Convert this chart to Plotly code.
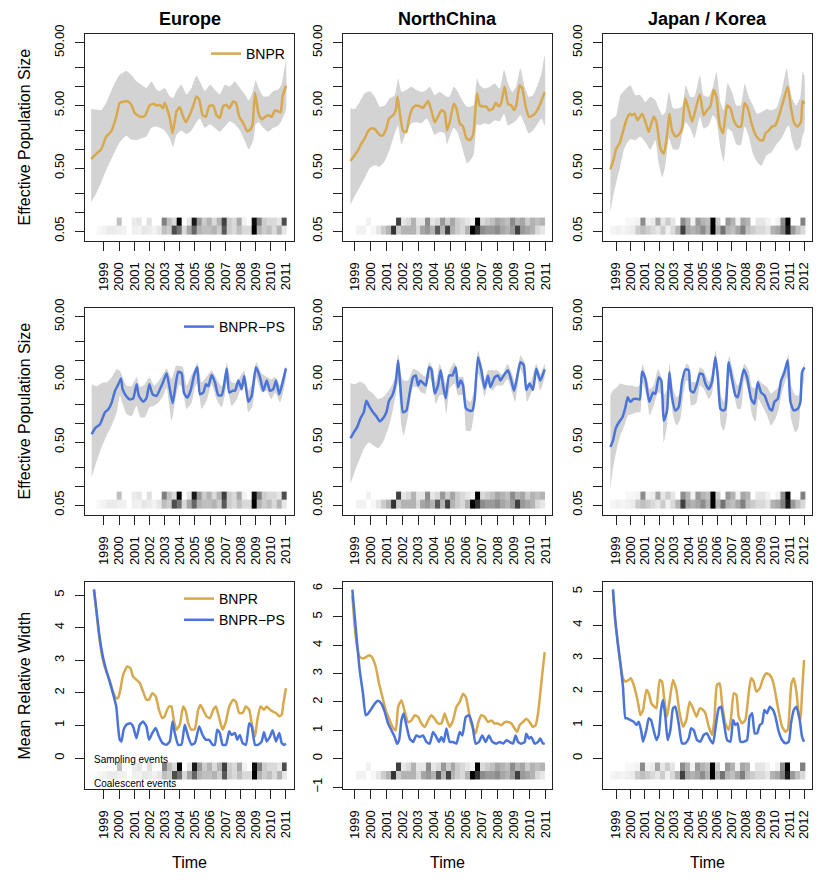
import numpy as np
import plotly.graph_objects as go
from plotly.subplots import make_subplots

# ---------------- data ----------------
# Europe, BNPR
eu_bnpr_t = [1998.16, 1998.49, 1998.82, 1999.15, 1999.48, 1999.81, 2000.04, 2000.37, 2000.59, 2000.81,
             2001.03, 2001.36, 2001.69, 2002.02, 2002.28, 2002.46, 2002.68, 2002.9, 2003.0, 2003.34,
             2003.52, 2003.67, 2003.78, 2004.0, 2004.18, 2004.4, 2004.66, 2004.88, 2005.1, 2005.28,
             2005.5, 2005.72, 2005.94, 2006.2, 2006.42, 2006.64, 2006.86, 2007.08, 2007.26, 2007.52,
             2007.7, 2007.92, 2008.19, 2008.45, 2008.67, 2008.8, 2008.96, 2009.18, 2009.4, 2009.62,
             2009.84, 2010.06, 2010.28, 2010.5, 2010.65, 2010.78, 2011.0]
eu_bnpr = [0.70, 0.85, 1.0, 1.6, 1.93, 3.3, 5.5, 5.8, 5.8, 5.1,
           3.8, 3.3, 3.4, 5.0, 5.3, 5.0, 5.1, 4.5, 5.5, 3.15,
           1.82, 2.8, 4.0, 4.7, 3.55, 2.7, 3.55, 4.9, 6.95, 6.2,
           3.55, 3.3, 4.9, 5.0, 3.5, 3.15, 4.9, 5.1, 4.5, 5.8,
           5.5, 3.3, 2.6, 1.93, 2.1, 2.5, 7.9, 3.8, 3.0, 3.3,
           3.5, 3.3, 4.2, 4.0, 3.9, 7.0, 10.3]
eu_bnpr_band_t = [1998.16, 1998.49, 1998.82, 1999.15, 1999.6, 2000.04, 2000.48, 2000.8, 2001.14, 2001.47,
                  2001.8, 2002.13, 2002.46, 2002.68, 2003.0, 2003.34, 2003.56, 2003.78, 2004.1, 2004.44,
                  2004.77, 2005.1, 2005.32, 2005.65, 2006.0, 2006.3, 2006.64, 2006.97, 2007.3, 2007.63,
                  2007.96, 2008.3, 2008.55, 2008.85, 2009.0, 2009.2, 2009.5, 2009.84, 2010.17, 2010.5,
                  2010.72, 2011.0]
eu_bnpr_hi = [4.4, 4.3, 4.2, 5.5, 10, 15.4, 17.7, 15.4, 12.1, 10.7,
              9.5, 12, 9, 8.5, 9.5, 7, 6.6, 8.5, 10.7, 7.5,
              9.5, 15, 12, 8.5, 10.7, 9, 7.5, 10.7, 10, 12,
              9.5, 7.5, 6.0, 9, 12.5, 9.5, 7, 7, 8.5, 9,
              11, 25]
eu_bnpr_lo = [0.143, 0.2, 0.3, 0.47, 0.8, 1.3, 1.65, 1.43, 1.4, 1.5,
              1.6, 2.2, 2.3, 2.2, 2.0, 1.5, 1.1, 1.7, 2.0, 1.75,
              2.0, 2.7, 3.1, 2.2, 2.5, 2.2, 1.9, 2.3, 2.8, 2.5,
              2.0, 1.35, 1.0, 1.4, 2.5, 2.7, 2.2, 1.9, 2.2, 2.4,
              2.9, 4.3]

# Europe, BNPR-PS
eu_ps_t = [1998.19, 1998.41, 1998.74, 1999.07, 1999.29, 1999.51, 1999.73, 1999.95, 2000.12, 2000.23,
           2000.45, 2000.71, 2000.93, 2001.15, 2001.3, 2001.59, 2001.81, 2001.99, 2002.21, 2002.47,
           2002.69, 2002.91, 2003.13, 2003.31, 2003.53, 2003.75, 2003.9, 2004.12, 2004.27, 2004.49,
           2004.71, 2004.93, 2005.15, 2005.33, 2005.55, 2005.73, 2005.88, 2006.1, 2006.32, 2006.54,
           2006.76, 2006.91, 2007.09, 2007.26, 2007.48, 2007.64, 2007.86, 2008.08, 2008.25, 2008.52,
           2008.74, 2009.02, 2009.29, 2009.51, 2009.73, 2009.95, 2010.16, 2010.34, 2010.56, 2010.78,
           2011.0]
eu_ps = [0.67, 0.83, 0.97, 1.5, 1.67, 2.15, 3.3, 4.2, 5.2, 3.5,
         2.75, 2.4, 2.5, 4.2, 2.75, 2.2, 2.55, 4.2, 2.9, 2.75,
         3.5, 4.6, 6.3, 3.9, 2.1, 4.5, 6.6, 6.3, 3.1, 2.55,
         3.3, 5.7, 7.8, 2.9, 3.1, 4.2, 3.9, 5.9, 4.5, 2.8,
         2.8, 3.9, 7.5, 3.1, 3.3, 3.3, 4.8, 3.5, 5.7, 2.2,
         2.75, 7.8, 5.4, 3.3, 4.8, 3.3, 3.5, 4.8, 2.9, 4.5,
         7.5]
eu_ps_band_t = [1998.19, 1998.52, 1998.85, 1999.18, 1999.51, 1999.84, 2000.05, 2000.27, 2000.5, 2000.82,
                2001.15, 2001.4, 2001.7, 2002.0, 2002.3, 2002.6, 2002.91, 2003.13, 2003.46, 2003.75,
                2003.97, 2004.19, 2004.45, 2004.78, 2005.0, 2005.17, 2005.44, 2005.77, 2006.1, 2006.43,
                2006.76, 2006.98, 2007.09, 2007.42, 2007.75, 2007.97, 2008.24, 2008.52, 2008.8, 2009.04,
                2009.4, 2009.73, 2010.03, 2010.3, 2010.6, 2010.8, 2011.0]
eu_ps_hi = [4.2, 3.9, 4.4, 4.5, 5.4, 7.3, 6.8, 5.2, 4.0, 3.9,
            5.4, 3.8, 4.2, 5.4, 4.0, 4.7, 6.1, 7.5, 5.1, 8.2,
            8.2, 8.0, 4.0, 6.0, 7.5, 9.3, 4.5, 5.5, 7.0, 5.1,
            3.9, 6.0, 9.3, 4.5, 4.4, 5.5, 6.9, 3.3, 4.5, 9.5,
            6.2, 5.5, 5.0, 5.5, 4.0, 5.6, 8.2]
eu_ps_lo = [0.14, 0.25, 0.42, 0.64, 0.92, 1.5, 2.75, 1.9, 1.4, 1.3,
            1.9, 1.25, 1.25, 1.8, 1.9, 2.15, 2.75, 3.7, 1.1, 2.75,
            4.2, 3.5, 1.7, 2.15, 3.7, 4.5, 1.7, 2.3, 4.2, 2.4,
            1.8, 2.9, 4.5, 1.9, 2.4, 3.3, 4.2, 1.5, 1.9, 5.4,
            3.1, 3.3, 2.4, 3.1, 2.15, 3.0, 5.4]

# Europe, mean relative width
eu_mrw_bnpr_t = [1998.34, 1998.49, 1998.71, 1998.93, 1999.15, 1999.37, 1999.59, 1999.81, 1999.93, 2000.08,
                 2000.26, 2000.54, 2000.74, 2000.92, 2001.14, 2001.36, 2001.58, 2001.8, 2001.97, 2002.19,
                 2002.41, 2002.63, 2002.85, 2003.0, 2003.12, 2003.3, 2003.45, 2003.6, 2003.78, 2004.0,
                 2004.22, 2004.4, 2004.55, 2004.77, 2004.99, 2005.21, 2005.37, 2005.59, 2005.76, 2005.98,
                 2006.2, 2006.38, 2006.6, 2006.82, 2007.04, 2007.26, 2007.52, 2007.7, 2007.92, 2008.14,
                 2008.36, 2008.58, 2008.74, 2008.96, 2009.11, 2009.33, 2009.55, 2009.73, 2009.95, 2010.12,
                 2010.34, 2010.56, 2010.72, 2010.83, 2011.0]
eu_mrw_bnpr = [5.17, 4.54, 3.62, 3.01, 2.65, 2.4, 2.04, 1.84, 1.84, 2.09,
               2.55, 2.81, 2.76, 2.5, 2.4, 2.3, 2.04, 1.79, 1.79, 1.99,
               1.89, 1.48, 1.22, 1.28, 1.43, 1.58, 1.58, 1.17, 0.87, 1.02,
               1.58, 1.43, 1.07, 0.87, 0.89, 1.48, 1.63, 1.43, 1.28, 1.22,
               1.48, 1.58, 1.22, 0.87, 1.12, 1.58, 1.79, 1.73, 1.38, 1.38,
               1.58, 1.48, 1.07, 0.66, 1.17, 1.58, 1.48, 1.58, 1.48, 1.43,
               1.38, 1.28, 1.33, 1.68, 2.14]
eu_mrw_ps_t = [1998.34, 1998.49, 1998.71, 1998.93, 1999.15, 1999.37, 1999.59, 1999.81, 1999.93, 2000.04,
               2000.15, 2000.3, 2000.48, 2000.74, 2000.92, 2001.14, 2001.36, 2001.58, 2001.8, 2001.97,
               2002.19, 2002.41, 2002.63, 2002.85, 2003.12, 2003.34, 2003.52, 2003.67, 2003.89, 2004.11,
               2004.33, 2004.55, 2004.77, 2004.99, 2005.28, 2005.5, 2005.72, 2005.94, 2006.16, 2006.31,
               2006.47, 2006.64, 2006.82, 2007.04, 2007.26, 2007.41, 2007.63, 2007.79, 2007.96, 2008.14,
               2008.36, 2008.58, 2008.74, 2008.96, 2009.18, 2009.4, 2009.55, 2009.73, 2009.95, 2010.12,
               2010.34, 2010.56, 2010.72, 2010.87, 2011.0]
eu_mrw_ps = [5.17, 4.59, 3.72, 3.11, 2.7, 2.35, 1.99, 1.58, 0.97, 0.56,
             0.51, 0.87, 1.02, 1.07, 0.97, 0.61, 1.02, 1.12, 0.97, 0.56,
             0.77, 0.92, 0.66, 0.46, 0.41, 0.51, 1.12, 0.77, 0.41, 0.41,
             1.02, 0.66, 0.41, 0.46, 0.97, 0.71, 0.56, 0.56, 0.41, 0.41,
             0.87, 0.77, 0.41, 0.41, 0.82, 0.71, 0.77, 0.56, 0.71, 0.46,
             0.41, 1.07, 0.97, 0.41, 0.41, 0.51, 0.79, 0.51, 0.66, 0.85,
             0.51, 0.77, 0.46, 0.41, 0.43]

# Europe, event density strips (0 = none, 1 = most)
eu_sampling = [0, 0, 0, 0, 0.25, 0, 0, 0.08, 0.1, 0, 0.12, 0, 0, 0.5, 0.25, 0.15, 1.0, 0, 0.1,
               0.9, 0.4, 0.2, 0.3, 0.15, 0.3, 0.75, 0.2, 0.15, 0.35, 0.05, 0, 0.95, 0.5, 0.2, 0.15,
               0.15, 0.1, 0.7]
eu_coalescent = [0.03, 0.05, 0.08, 0.08, 0.06, 0.05, 0, 0.06, 0.05, 0.1, 0.08, 0.05, 0.1, 0.25, 0.2,
                 0.7, 0.55, 0.15, 0.35, 0.6, 0.3, 0.25, 0.25, 0.3, 0.2, 0.65, 0.2, 0.15, 0.25, 0.15,
                 0.15, 1.0, 0.3, 0.2, 0.25, 0.15, 0.3, 0.1]

# NorthChina, BNPR
nc_bnpr_t = [1998.73, 1999.0, 1999.21, 1999.42, 1999.63, 1999.84, 2000.05, 2000.26, 2000.57, 2000.74,
             2000.99, 2001.16, 2001.41, 2001.58, 2001.69, 2001.83, 2002.04, 2002.25, 2002.42, 2002.63,
             2002.84, 2003.05, 2003.3, 2003.62, 2003.82, 2004.03, 2004.24, 2004.45, 2004.66, 2004.81,
             2004.98, 2005.23, 2005.4, 2005.61, 2005.82, 2006.03, 2006.24, 2006.45, 2006.7, 2006.87,
             2007.08, 2007.29, 2007.45, 2007.71, 2007.87, 2008.08, 2008.23, 2008.44, 2008.65, 2008.86,
             2009.03, 2009.17, 2009.38, 2009.55, 2009.76, 2009.97, 2010.22, 2010.43, 2010.68, 2010.96]
nc_bnpr = [0.65, 0.81, 0.97, 1.24, 1.49, 1.95, 2.15, 2.1, 1.69, 1.65,
           2.15, 3.1, 3.5, 4.2, 6.9, 3.95, 1.95, 1.9, 3.1, 4.5,
           5.0, 4.9, 4.6, 5.9, 4.2, 2.7, 3.3, 4.2, 3.9, 2.0,
           2.7, 5.3, 4.5, 2.6, 2.3, 1.5, 1.4, 1.7, 7.8, 5.0,
           4.8, 4.8, 4.2, 4.5, 5.5, 4.8, 5.6, 9.9, 5.3, 5.0,
           4.2, 5.0, 10.5, 9.3, 4.8, 3.3, 3.5, 3.95, 5.3, 8.1]
nc_bnpr_band_t = [1998.73, 1999.0, 1999.31, 1999.63, 1999.94, 2000.26, 2000.57, 2000.89, 2001.2, 2001.52,
                  2001.73, 2001.94, 2002.25, 2002.57, 2002.88, 2003.2, 2003.51, 2003.72, 2004.03, 2004.35,
                  2004.66, 2004.81, 2004.98, 2005.23, 2005.5, 2005.82, 2006.07, 2006.34, 2006.5, 2006.7,
                  2006.87, 2007.18, 2007.5, 2007.81, 2008.13, 2008.4, 2008.65, 2008.92, 2009.17, 2009.43,
                  2009.7, 2009.95, 2010.22, 2010.54, 2010.75, 2010.96]
nc_bnpr_hi = [4.5, 4.4, 5.7, 7.8, 8.4, 6.9, 4.8, 5.0, 6.5, 7.3,
              13.4, 8.2, 8.8, 9.9, 8.8, 8.2, 8.8, 9.9, 7.3, 8.2,
              7.3, 6.9, 6.9, 9.9, 8.2, 5.7, 4.8, 4.8, 5.2, 13.4,
              10.5, 9.3, 9.9, 11.2, 9.3, 18.3, 11.2, 8.2, 10, 19.5,
              9.9, 6.9, 7.3, 11, 16, 31.6]
nc_bnpr_lo = [0.13, 0.18, 0.25, 0.35, 0.5, 0.56, 0.53, 0.65, 1.0, 1.8,
              2.4, 1.2, 1.9, 2.6, 2.7, 2.6, 3.1, 2.6, 1.7, 1.9,
              1.8, 1.2, 1.6, 2.2, 1.8, 0.95, 0.6, 0.7, 0.85, 2.5,
              2.4, 2.6, 2.5, 2.9, 2.8, 3.7, 2.4, 2.6, 2.9, 3.5,
              2.5, 1.8, 2.0, 2.6, 3.1, 2.4]

# NorthChina, BNPR-PS
nc_ps_t = [1998.73, 1998.94, 1999.15, 1999.36, 1999.57, 1999.73, 1999.9, 2000.15, 2000.36, 2000.57,
           2000.78, 2000.99, 2001.16, 2001.37, 2001.58, 2001.73, 2001.87, 2002.04, 2002.25, 2002.46,
           2002.67, 2002.84, 2002.99, 2003.13, 2003.47, 2003.68, 2003.82, 2004.03, 2004.24, 2004.41,
           2004.56, 2004.73, 2004.94, 2005.15, 2005.36, 2005.5, 2005.67, 2005.82, 2005.99, 2006.2,
           2006.41, 2006.55, 2006.76, 2006.97, 2007.18, 2007.39, 2007.54, 2007.81, 2008.02, 2008.17,
           2008.38, 2008.65, 2008.86, 2009.03, 2009.22, 2009.43, 2009.64, 2009.8, 2010.01, 2010.22,
           2010.43, 2010.68, 2010.96]
nc_ps = [0.58, 0.72, 0.87, 1.2, 1.5, 2.3, 1.9, 1.5, 1.3, 1.08,
         1.2, 1.5, 2.3, 2.8, 4.5, 10, 4.0, 1.5, 1.6, 3.1,
         5.4, 5.8, 4.0, 4.8, 4.0, 7.8, 7.3, 3.0, 4.0, 7.0,
         4.0, 2.5, 5.8, 5.8, 7.8, 3.75, 4.8, 4.0, 1.75, 1.6,
         1.6, 2.45, 11.3, 7.0, 3.6, 5.8, 3.75, 5.4, 5.8, 4.8,
         5.8, 7.0, 4.8, 3.3, 5.4, 9.4, 8.5, 3.4, 4.3, 3.4,
         7.4, 4.8, 7.2]
nc_ps_band_t = [1998.73, 1999.0, 1999.31, 1999.63, 1999.9, 2000.15, 2000.47, 2000.78, 2001.1, 2001.37,
                2001.58, 2001.73, 2001.94, 2002.08, 2002.36, 2002.67, 2002.92, 2003.2, 2003.45, 2003.68,
                2003.93, 2004.1, 2004.35, 2004.56, 2004.77, 2004.98, 2005.29, 2005.5, 2005.82, 2006.03,
                2006.3, 2006.5, 2006.76, 2006.97, 2007.18, 2007.39, 2007.65, 2007.95, 2008.3, 2008.62,
                2008.92, 2009.1, 2009.43, 2009.7, 2009.85, 2010.12, 2010.43, 2010.68, 2010.96]
nc_ps_hi = [4.4, 4.2, 4.6, 4.2, 3.3, 3.0, 2.45, 2.6, 3.2, 4.2,
            5.8, 12.9, 5.5, 4.8, 4.8, 7.3, 7.0, 6.1, 5.5, 9.4,
            7.5, 4.5, 8.9, 6.0, 4.0, 7.0, 9.4, 5.5, 5.5, 2.45,
            2.2, 3.3, 14.5, 9.4, 5.0, 7.0, 7.0, 7.0, 6.0, 8.9,
            6.0, 4.2, 12, 9.4, 4.2, 4.8, 8.9, 6.0, 8.9]
nc_ps_lo = [0.11, 0.17, 0.27, 0.42, 0.5, 0.45, 0.4, 0.5, 0.81, 1.5,
            2.8, 4.5, 0.92, 0.64, 1.35, 3.8, 3.8, 3.1, 2.95, 5.4,
            4.0, 2.05, 2.8, 2.8, 1.4, 3.6, 4.3, 2.8, 2.8, 0.76,
            0.76, 1.4, 6.3, 4.5, 2.6, 4.3, 3.3, 4.0, 4.0, 5.1,
            3.0, 2.2, 7.3, 5.0, 2.2, 3.1, 5.8, 3.35, 5.4]

# NorthChina, mean relative width
nc_mrw_bnpr_t = [1998.85, 1999.0, 1999.15, 1999.31, 1999.52, 1999.73, 1999.94, 2000.11, 2000.32, 2000.53,
                 2000.74, 2000.95, 2001.16, 2001.37, 2001.58, 2001.73, 2001.94, 2002.15, 2002.36, 2002.57,
                 2002.78, 2002.99, 2003.2, 2003.41, 2003.62, 2003.82, 2004.03, 2004.24, 2004.45, 2004.66,
                 2004.81, 2004.98, 2005.19, 2005.4, 2005.61, 2005.82, 2005.99, 2006.13, 2006.28, 2006.45,
                 2006.61, 2006.76, 2006.97, 2007.18, 2007.39, 2007.6, 2007.81, 2008.02, 2008.23, 2008.44,
                 2008.65, 2008.86, 2009.07, 2009.22, 2009.38, 2009.59, 2009.8, 2010.01, 2010.22, 2010.39,
                 2010.54, 2010.68, 2010.81, 2010.96]
nc_mrw_bnpr = [5.76, 4.65, 3.94, 3.59, 3.53, 3.59, 3.65, 3.56, 3.24, 2.65,
               2.18, 1.71, 1.41, 1.12, 1.0, 1.82, 2.06, 1.65, 1.29, 1.35,
               1.53, 1.47, 1.24, 1.12, 1.35, 1.53, 1.41, 1.24, 1.24, 1.59,
               1.35, 1.12, 1.35, 1.82, 2.0, 2.29, 2.18, 1.82, 1.35, 1.06,
               0.88, 1.24, 1.53, 1.47, 1.29, 1.35, 1.24, 1.24, 1.18, 1.29,
               1.29, 1.24, 1.06, 0.94, 1.18, 1.29, 1.41, 1.29, 1.12, 1.18,
               1.59, 2.29, 3.0, 3.76]
nc_mrw_ps_t = [1998.85, 1999.0, 1999.15, 1999.31, 1999.52, 1999.69, 1999.84, 2000.05, 2000.26, 2000.47,
               2000.68, 2000.89, 2001.1, 2001.31, 2001.52, 2001.66, 2001.79, 2001.94, 2002.08, 2002.25,
               2002.46, 2002.67, 2002.88, 2003.09, 2003.3, 2003.51, 2003.72, 2003.93, 2004.14, 2004.31,
               2004.45, 2004.6, 2004.77, 2004.98, 2005.19, 2005.4, 2005.61, 2005.78, 2005.99, 2006.2,
               2006.41, 2006.61, 2006.82, 2007.03, 2007.24, 2007.45, 2007.66, 2007.92, 2008.13, 2008.34,
               2008.55, 2008.75, 2008.96, 2009.13, 2009.28, 2009.49, 2009.7, 2009.8, 2009.97, 2010.12,
               2010.33, 2010.54, 2010.68, 2010.85, 2010.96]
nc_mrw_ps = [5.96, 5.0, 4.06, 3.12, 2.29, 1.53, 1.59, 1.76, 1.94, 2.04,
             1.94, 1.65, 1.24, 1.0, 0.76, 0.53, 0.65, 1.35, 1.59, 1.18,
             0.71, 0.59, 0.82, 0.76, 0.82, 0.59, 0.53, 0.94, 0.76, 0.59,
             0.76, 0.59, 1.06, 0.59, 0.59, 0.53, 0.94, 0.82, 1.47, 1.53,
             1.18, 0.53, 0.59, 0.82, 0.59, 0.82, 0.59, 0.53, 0.59, 0.53,
             0.65, 0.59, 0.53, 0.82, 0.59, 0.53, 0.59, 0.88, 0.71, 0.76,
             0.53, 0.59, 0.71, 0.53, 0.55]

nc_sampling = [0, 0, 0.05, 0, 0, 0, 0, 0, 0.75, 0.1, 0.15, 0.3, 0.1, 0.1, 0.45, 0.1, 0.15, 0.4, 0.2,
               0.35, 0.2, 0.15, 0.1, 0.05, 1.0, 0.15, 0.2, 0.25, 0.35, 0.3, 0.25, 0.45, 0.3, 0.35, 0.2,
               0.3, 0.25, 0.3]
nc_coalescent = [0.05, 0.05, 0, 0.03, 0.1, 0.2, 0.3, 0.8, 0.2, 0.3, 0.3, 0.3, 0.15, 0.35, 0.4, 0.3,
                 0.65, 0.3, 0.75, 0.3, 0.2, 0.15, 0.3, 1.0, 0.8, 0.45, 0.4, 0.4, 0.45, 0.35, 0.3, 0.4,
                 0.75, 0.4, 0.35, 0.3, 0.15, 0.1]

# Japan / Korea, BNPR
jp_bnpr_t = [1998.61, 1998.84, 1999.02, 1999.25, 1999.48, 1999.71, 1999.95, 2000.1, 2000.29, 2000.5,
             2000.8, 2001.03, 2001.26, 2001.6, 2001.79, 2002.07, 2002.3, 2002.53, 2002.69, 2002.87,
             2003.1, 2003.33, 2003.56, 2003.79, 2004.03, 2004.26, 2004.49, 2004.79, 2005.06, 2005.29,
             2005.52, 2005.75, 2005.94, 2006.17, 2006.4, 2006.68, 2006.91, 2007.14, 2007.41, 2007.64,
             2007.88, 2008.11, 2008.34, 2008.64, 2008.94, 2009.17, 2009.33, 2009.56, 2009.79, 2010.02,
             2010.25, 2010.55, 2010.87, 2011.1, 2011.33, 2011.56, 2011.79, 2011.89, 2012.02]
jp_bnpr = [0.48, 0.70, 1.03, 1.25, 1.9, 2.9, 3.7, 3.5, 3.7, 2.9,
           3.7, 2.75, 1.9, 3.3, 2.75, 1.03, 0.85, 1.7, 3.7, 2.0,
           1.6, 1.7, 2.15, 6.5, 4.2, 2.75, 4.2, 7.5, 3.5, 4.2,
           4.8, 8.8, 6.9, 2.4, 1.8, 5.0, 4.5, 2.9, 2.3, 2.3,
           5.4, 4.5, 2.75, 1.7, 1.4, 1.4, 1.8, 2.0, 2.3, 2.4,
           3.3, 5.7, 9.9, 4.5, 2.6, 2.3, 2.75, 5.9, 5.3]
jp_bnpr_band_t = [1998.61, 1998.84, 1999.02, 1999.3, 1999.55, 1999.8, 2000.0, 2000.34, 2000.68, 2001.03,
                  2001.37, 2001.72, 2001.95, 2002.2, 2002.41, 2002.66, 2002.95, 2003.33, 2003.6, 2003.82,
                  2004.14, 2004.42, 2004.8, 2005.06, 2005.41, 2005.7, 2005.94, 2006.22, 2006.45, 2006.72,
                  2007.02, 2007.32, 2007.62, 2007.9, 2008.17, 2008.47, 2008.75, 2009.05, 2009.4, 2009.75,
                  2010.1, 2010.45, 2010.8, 2010.95, 2011.17, 2011.45, 2011.75, 2011.9, 2012.02]
jp_bnpr_hi = [2.9, 3.2, 3.5, 7.3, 8.5, 9.8, 10.5, 7.3, 7.3, 5.7,
              6.9, 6.1, 4.5, 3.5, 3.9, 8.2, 4.5, 4.5, 5.0, 10.5,
              6.9, 6.9, 15, 7.3, 6.9, 9.9, 17, 5.7, 4.2, 11.2,
              8.2, 5.0, 5.0, 11.2, 6.9, 5.0, 3.7, 3.9, 4.4, 4.2,
              4.6, 8.2, 19.5, 12, 6.5, 5.0, 6.9, 17, 15]
jp_bnpr_lo = [0.1, 0.2, 0.3, 0.55, 1.0, 1.3, 1.45, 1.4, 1.6, 1.3,
              1.0, 1.4, 0.6, 0.36, 0.55, 1.5, 1.0, 1.0, 1.8, 2.7,
              2.15, 1.5, 3.3, 2.15, 2.4, 3.5, 2.9, 1.03, 0.63, 2.15,
              1.9, 1.2, 1.15, 2.3, 1.65, 0.85, 0.63, 0.55, 0.8, 0.9,
              1.2, 1.5, 2.2, 2.4, 1.4, 0.95, 1.1, 1.65, 1.9]

# Japan / Korea, BNPR-PS
jp_ps_t = [1998.61, 1998.79, 1998.98, 1999.21, 1999.44, 1999.65, 1999.81, 1999.99, 2000.22, 2000.45,
           2000.64, 2000.8, 2001.03, 2001.3, 2001.56, 2001.72, 2001.95, 2002.13, 2002.3, 2002.53,
           2002.69, 2002.87, 2003.1, 2003.33, 2003.56, 2003.79, 2004.03, 2004.14, 2004.37, 2004.6,
           2004.79, 2005.0, 2005.18, 2005.41, 2005.64, 2005.87, 2006.03, 2006.22, 2006.4, 2006.56,
           2006.79, 2007.02, 2007.25, 2007.41, 2007.6, 2007.83, 2008.06, 2008.34, 2008.57, 2008.8,
           2009.03, 2009.26, 2009.44, 2009.63, 2009.79, 2009.95, 2010.18, 2010.41, 2010.64, 2010.87,
           2011.06, 2011.29, 2011.56, 2011.75, 2011.86, 2012.02]
jp_ps = [0.42, 0.53, 0.83, 1.05, 1.25, 1.8, 2.6, 2.2, 2.45, 2.45,
         2.4, 6.7, 5.1, 2.2, 3.1, 2.95, 5.4, 4.8, 1.1, 1.6,
         6.5, 2.6, 1.6, 1.8, 4.5, 7.2, 7.0, 3.35, 3.1, 4.3,
         6.2, 6.0, 4.3, 3.5, 4.6, 11.3, 5.8, 1.7, 1.6, 1.7,
         9.4, 5.1, 2.8, 2.6, 4.0, 7.2, 5.4, 2.45, 2.05, 4.5,
         3.1, 2.8, 2.2, 1.7, 1.6, 2.2, 2.45, 4.8, 6.5, 10.1,
         2.2, 1.6, 1.7, 2.2, 6.5, 7.8]
jp_ps_band_t = [1998.61, 1998.79, 1999.07, 1999.3, 1999.58, 1999.83, 2000.1, 2000.45, 2000.68, 2000.82,
                2001.1, 2001.33, 2001.6, 2001.9, 2002.13, 2002.3, 2002.53, 2002.7, 2002.94, 2003.2,
                2003.45, 2003.65, 2003.86, 2004.03, 2004.2, 2004.55, 2004.8, 2005.06, 2005.41, 2005.64,
                2005.88, 2006.1, 2006.26, 2006.45, 2006.65, 2006.82, 2007.14, 2007.4, 2007.64, 2007.86,
                2008.17, 2008.41, 2008.64, 2008.85, 2009.1, 2009.44, 2009.72, 2010.02, 2010.25, 2010.5,
                2010.75, 2010.92, 2011.1, 2011.4, 2011.63, 2011.8, 2012.02]
jp_ps_hi = [2.8, 3.35, 3.8, 4.3, 4.1, 4.0, 4.0, 3.8, 4.2, 8.9,
            5.5, 3.5, 4.0, 7.3, 5.5, 2.8, 3.5, 8.9, 3.6, 2.6,
            3.1, 6.0, 8.9, 8.5, 4.6, 4.6, 7.8, 7.0, 4.6, 6.4,
            14.5, 6.5, 2.8, 2.2, 5.0, 12, 6.0, 4.0, 5.0, 8.9,
            7.0, 3.8, 3.6, 5.0, 4.3, 3.8, 3.0, 3.4, 3.8, 6.5,
            8.5, 12.9, 4.0, 2.8, 2.8, 5.0, 9.4]
jp_ps_lo = [0.09, 0.19, 0.4, 0.64, 0.92, 1.35, 1.4, 1.5, 1.5, 4.5,
            2.8, 1.35, 1.9, 3.1, 2.9, 0.5, 0.92, 4.0, 1.35, 0.92,
            1.18, 2.8, 4.8, 4.6, 1.9, 2.1, 4.0, 3.6, 2.45, 3.0,
            7.8, 2.8, 0.92, 0.76, 1.18, 5.8, 3.1, 1.7, 1.7, 5.1,
            3.1, 1.35, 1.05, 2.45, 1.9, 1.35, 0.92, 1.18, 1.7, 3.3,
            5.0, 5.8, 1.18, 0.72, 0.87, 3.0, 5.1]

# Japan / Korea, mean relative width
jp_mrw_bnpr_t = [1998.79, 1998.95, 1999.12, 1999.3, 1999.48, 1999.65, 1999.88, 2000.04, 2000.22, 2000.41,
                 2000.57, 2000.68, 2000.87, 2001.1, 2001.26, 2001.44, 2001.65, 2001.79, 2002.02, 2002.18,
                 2002.34, 2002.53, 2002.71, 2002.94, 2003.17, 2003.4, 2003.63, 2003.86, 2004.09, 2004.32,
                 2004.56, 2004.79, 2005.02, 2005.18, 2005.41, 2005.64, 2005.8, 2005.98, 2006.17, 2006.33,
                 2006.56, 2006.79, 2006.95, 2007.14, 2007.32, 2007.48, 2007.71, 2007.94, 2008.17, 2008.34,
                 2008.52, 2008.7, 2008.94, 2009.17, 2009.4, 2009.63, 2009.86, 2010.02, 2010.25, 2010.48,
                 2010.71, 2010.87, 2011.01, 2011.13, 2011.29, 2011.47, 2011.63, 2011.75, 2011.86, 2012.0]
jp_mrw_bnpr = [5.0, 4.1, 3.5, 2.85, 2.4, 2.3, 2.35, 2.4, 2.2, 1.9,
               1.55, 1.3, 1.45, 2.05, 1.95, 1.65, 1.55, 1.5, 2.35, 2.3,
               1.75, 1.25, 1.75, 2.35, 2.05, 1.35, 0.95, 1.15, 1.7, 1.5,
               1.25, 1.5, 1.45, 1.35, 0.95, 0.7, 1.15, 2.2, 2.25, 1.65,
               1.05, 0.85, 1.2, 1.95, 1.9, 1.25, 1.05, 1.15, 1.95, 2.4,
               2.3, 2.0, 2.1, 2.4, 2.55, 2.5, 2.3, 1.95, 1.4, 0.95,
               0.8, 0.85, 1.55, 2.25, 2.4, 2.0, 1.35, 1.15, 1.95, 2.95]
jp_mrw_ps_t = [1998.79, 1998.95, 1999.12, 1999.3, 1999.48, 1999.65, 1999.76, 1999.99, 2000.22, 2000.41,
               2000.57, 2000.73, 2000.87, 2001.1, 2001.26, 2001.42, 2001.6, 2001.79, 2001.95, 2002.11,
               2002.25, 2002.41, 2002.57, 2002.76, 2002.94, 2003.1, 2003.33, 2003.56, 2003.79, 2004.03,
               2004.19, 2004.37, 2004.6, 2004.83, 2005.06, 2005.29, 2005.52, 2005.71, 2005.89, 2006.1,
               2006.26, 2006.45, 2006.68, 2006.91, 2007.09, 2007.25, 2007.41, 2007.6, 2007.83, 2008.06,
               2008.24, 2008.41, 2008.59, 2008.75, 2008.94, 2009.1, 2009.26, 2009.44, 2009.63, 2009.86,
               2010.02, 2010.25, 2010.48, 2010.71, 2010.94, 2011.1, 2011.29, 2011.47, 2011.7, 2011.86,
               2012.0]
jp_mrw_ps = [5.07, 4.15, 3.45, 2.85, 2.15, 1.2, 1.2, 1.15, 1.1, 1.0,
             1.1, 0.85, 0.5, 0.85, 1.2, 1.15, 0.85, 0.55, 0.7, 1.45,
             1.75, 1.25, 0.55, 0.85, 1.5, 1.55, 1.05, 0.45, 0.45, 0.6,
             0.9, 0.85, 0.55, 0.5, 0.7, 0.75, 0.55, 0.45, 0.95, 1.5,
             1.55, 1.1, 0.55, 0.5, 1.15, 1.0, 1.05, 0.5, 0.5, 0.55,
             1.25, 1.35, 0.75, 0.75, 1.0, 1.05, 1.45, 1.35, 1.55, 1.45,
             1.25, 0.8, 0.55, 0.45, 0.5, 1.05, 1.45, 1.55, 1.15, 0.65,
             0.5]

jp_sampling = [0, 0, 0, 0.03, 0.03, 0.05, 0.45, 0.05, 0.08, 0.35, 0.1, 0.2, 0.1, 0, 0.45, 0.3, 0.05,
               0.4, 0.3, 0.25, 1.0, 0.2, 0, 0.4, 0.3, 0.05, 0.35, 0.3, 0, 0.1, 0.1, 0.05, 0, 0.05,
               0.45, 1.0, 0, 0, 0.5]
jp_coalescent = [0.04, 0.06, 0.04, 0.06, 0.08, 0.2, 0.25, 0.2, 0.15, 0.1, 0.2, 0.06, 0.15, 0.3, 0.75,
                 0.35, 0.3, 0.35, 0.45, 0.3, 1.0, 0.3, 0.55, 0.3, 0.25, 0.35, 0.5, 0.25, 0.2, 0.15,
                 0.15, 0.1, 0.3, 0.35, 0.5, 0.9, 0.4, 0.25, 0.15]

regions = ["Europe", "NorthChina", "Japan / Korea"]
eu_years = list(range(1999, 2012))
nc_years = list(range(1999, 2012))
jp_years = list(range(1999, 2013))
log_tick_vals = [0.05, 0.1, 0.2, 0.5, 1, 2, 5, 10, 20, 50]
log_tick_text = ["0.05", "", "", "0.50", "", "", "5.00", "", "", "50.00"]

# ---------------- styling / layout ----------------
ORANGE = "#D8A84C"
BLUE = "#4A74D8"
BAND = "#D3D3D3"
FONT = "Liberation Sans, Arial, sans-serif"

# the page puts the plot 8px in from the top-left corner, so work in window
# pixels and shift everything back by that offset
OFF = 8
W, H = 830 - OFF, 882 - OFF


def px(x):
    return (x - OFF) / W


def py(y):
    return 1 - (y - OFF) / H


col_px = [(85, 294), (343, 552), (603, 812)]
row_px = [(34, 241), (308, 515), (582, 789)]
x_ranges = [[1997.75, 2011.53], [1998.26, 2011.42], [1998.1, 2012.55]]
strip_spans = [(1998.52, 2011.04), (1999.08, 2010.95), (1998.61, 2012.09)]
log_range = [-1.46, 1.837]
mrw_ranges = [[-0.95, 5.4], [-1.07, 6.23], [-0.92, 5.29]]

cols = [
    dict(years=eu_years, samp=eu_sampling, coal=eu_coalescent,
         bnpr=(eu_bnpr_t, eu_bnpr, eu_bnpr_band_t, eu_bnpr_hi, eu_bnpr_lo),
         ps=(eu_ps_t, eu_ps, eu_ps_band_t, eu_ps_hi, eu_ps_lo),
         mrw=(eu_mrw_bnpr_t, eu_mrw_bnpr, eu_mrw_ps_t, eu_mrw_ps)),
    dict(years=nc_years, samp=nc_sampling, coal=nc_coalescent,
         bnpr=(nc_bnpr_t, nc_bnpr, nc_bnpr_band_t, nc_bnpr_hi, nc_bnpr_lo),
         ps=(nc_ps_t, nc_ps, nc_ps_band_t, nc_ps_hi, nc_ps_lo),
         mrw=(nc_mrw_bnpr_t, nc_mrw_bnpr, nc_mrw_ps_t, nc_mrw_ps)),
    dict(years=jp_years, samp=jp_sampling, coal=jp_coalescent,
         bnpr=(jp_bnpr_t, jp_bnpr, jp_bnpr_band_t, jp_bnpr_hi, jp_bnpr_lo),
         ps=(jp_ps_t, jp_ps, jp_ps_band_t, jp_ps_hi, jp_ps_lo),
         mrw=(jp_mrw_bnpr_t, jp_mrw_bnpr, jp_mrw_ps_t, jp_mrw_ps)),
]


def strip(samp, coal, span, yr, logy, fracs):
    xe = np.linspace(span[0], span[1], len(samp) + 1)
    ye = [yr[0] + f * (yr[1] - yr[0]) for f in fracs]
    if logy:
        ye = [10 ** v for v in ye]
    return go.Heatmap(x=xe, y=ye, z=[coal, samp], zmin=0, zmax=1,
                      colorscale=[[0, "white"], [1, "black"]],
                      showscale=False, hoverinfo="skip")


def band(t, hi, lo):
    return go.Scatter(x=list(t) + list(t)[::-1], y=list(hi) + list(lo)[::-1],
                      fill="toself", fillcolor=BAND, mode="lines",
                      line=dict(width=0, shape="spline", smoothing=0.5),
                      showlegend=False, hoverinfo="skip")


def curve(t, v, color, name, legend, show):
    return go.Scatter(x=t, y=v, mode="lines", name=name,
                      line=dict(color=color, width=2.5, shape="spline", smoothing=0.5),
                      showlegend=show, legend=legend)


fig = make_subplots(rows=3, cols=3)

for c, d in enumerate(cols):
    # row 1: BNPR
    t, v, bt, hi, lo = d["bnpr"]
    fig.add_trace(strip(d["samp"], d["coal"], strip_spans[c], log_range, True,
                        [0.033, 0.073, 0.113]), row=1, col=c + 1)
    fig.add_trace(band(bt, hi, lo), row=1, col=c + 1)
    fig.add_trace(curve(t, v, ORANGE, "BNPR", "legend", c == 0), row=1, col=c + 1)
    # row 2: BNPR-PS
    t, v, bt, hi, lo = d["ps"]
    fig.add_trace(strip(d["samp"], d["coal"], strip_spans[c], log_range, True,
                        [0.033, 0.073, 0.113]), row=2, col=c + 1)
    fig.add_trace(band(bt, hi, lo), row=2, col=c + 1)
    fig.add_trace(curve(t, v, BLUE, "BNPR\u2212PS", "legend2", c == 0), row=2, col=c + 1)
    # row 3: mean relative width
    bt, bv, pt, pv = d["mrw"]
    fig.add_trace(strip(d["samp"], d["coal"], strip_spans[c], mrw_ranges[c], False,
                        [0.048, 0.088, 0.128]), row=3, col=c + 1)
    fig.add_trace(curve(bt, bv, ORANGE, "BNPR", "legend3", c == 0), row=3, col=c + 1)
    fig.add_trace(curve(pt, pv, BLUE, "BNPR\u2212PS", "legend3", c == 0), row=3, col=c + 1)

axis_common = dict(showline=True, mirror=True, linecolor="#222222", linewidth=1,
                   ticks="outside", ticklen=9, tickcolor="#222222", tickwidth=1,
                   showgrid=False, zeroline=False, tickangle=-90, ticklabelstandoff=6,
                   automargin=False,
                   tickfont=dict(family=FONT, size=13, color="black"))

for r in range(3):
    for c in range(3):
        idx = r * 3 + c + 1
        xname = "xaxis" if idx == 1 else f"xaxis{idx}"
        yname = "yaxis" if idx == 1 else f"yaxis{idx}"
        x0, x1 = col_px[c]
        y0, y1 = row_px[r]
        fig.layout[xname].update(domain=[px(x0), px(x1)], range=x_ranges[c],
                                 tickmode="array", tickvals=cols[c]["years"],
                                 ticktext=[str(y) for y in cols[c]["years"]], **axis_common)
        ydom = [py(y1), py(y0)]
        if r < 2:
            fig.layout[yname].update(domain=ydom, type="log", range=log_range,
                                     tickmode="array", tickvals=log_tick_vals,
                                     ticktext=log_tick_text, **axis_common)
        else:
            fig.layout[yname].update(domain=ydom, range=mrw_ranges[c], dtick=1,
                                     tick0=0, **axis_common)

ann = []
for c, name in enumerate(regions):
    cx = px((col_px[c][0] + col_px[c][1]) / 2)
    ann.append(dict(text=f"<b>{name}</b>", x=cx, y=py(19), xref="paper", yref="paper",
                    xanchor="center", yanchor="middle", showarrow=False,
                    font=dict(family=FONT, size=18, color="black")))
    ann.append(dict(text="Time", x=cx, y=py(862), xref="paper", yref="paper",
                    xanchor="center", yanchor="middle", showarrow=False,
                    font=dict(family=FONT, size=16, color="black")))
for r, title in enumerate(["Effective Population Size", "Effective Population Size",
                           "Mean Relative Width"]):
    cy = py((row_px[r][0] + row_px[r][1]) / 2)
    ann.append(dict(text=title, x=px(24), y=cy, xref="paper", yref="paper", textangle=-90,
                    xanchor="center", yanchor="middle", showarrow=False,
                    font=dict(family=FONT, size=16, color="black")))
ann.append(dict(text="Sampling events", x=px(92), y=py(759), xref="paper", yref="paper",
                xanchor="left", yanchor="middle", showarrow=False,
                font=dict(family=FONT, size=10, color="black")))
ann.append(dict(text="Coalescent events", x=px(92), y=py(783), xref="paper", yref="paper",
                xanchor="left", yanchor="middle", showarrow=False,
                font=dict(family=FONT, size=10, color="black")))

leg_common = dict(bgcolor="rgba(0,0,0,0)", font=dict(family=FONT, size=14, color="black"),
                  xanchor="left", yanchor="top", itemwidth=30, tracegroupgap=0)
fig.update_layout(
    width=W, height=H, margin=dict(l=0, r=0, t=0, b=0, autoexpand=False),
    paper_bgcolor="white", plot_bgcolor="white",
    annotations=ann,
    legend=dict(x=px(206), y=py(38), **leg_common),
    legend2=dict(x=px(179), y=py(311), **leg_common),
    legend3=dict(x=px(179), y=py(583), **leg_common),
)

fig.write_html("out.html")
